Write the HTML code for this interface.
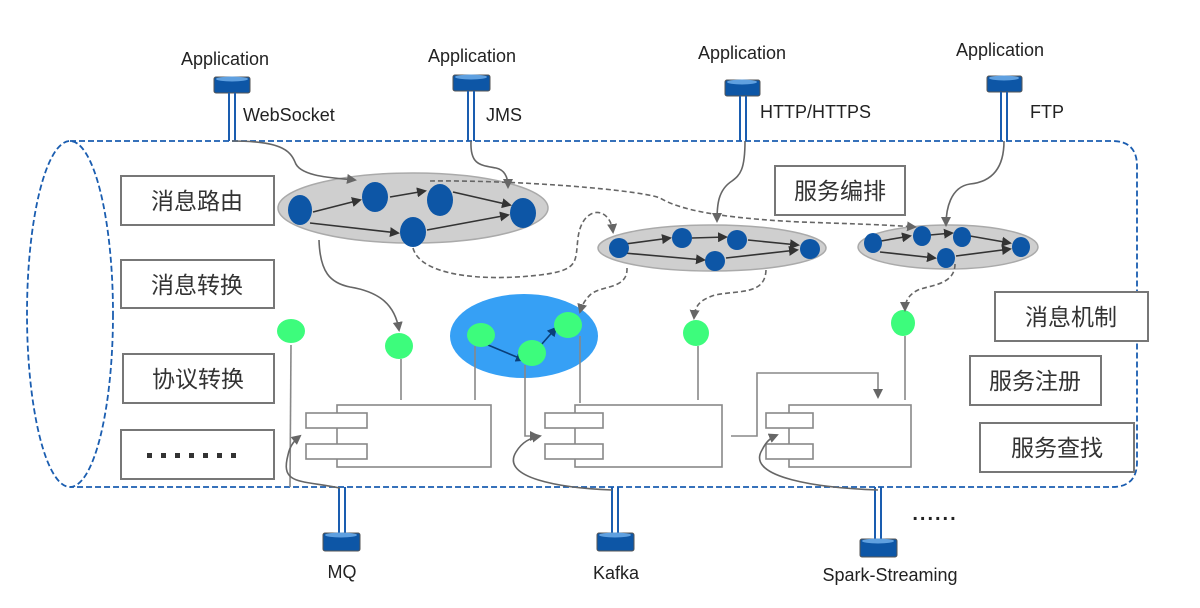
<!DOCTYPE html>
<html><head><meta charset="utf-8"><style>
html,body{margin:0;padding:0;background:#fff;}
svg{display:block}
text{font-family:"Liberation Sans","Noto Sans CJK SC",sans-serif;fill:#222}
.cn{font-size:23px;fill:#333}
.box{fill:#fff;stroke:#777;stroke-width:2}
.dn{fill:#0d56a6}
.gn{fill:#3dfc7c}
.ln{stroke:#888;stroke-width:1.6;fill:none}
.cv{stroke:#666;stroke-width:1.6;fill:none}
.ds{stroke:#666;stroke-width:1.6;fill:none;stroke-dasharray:5 3}
.ar{stroke:#333;stroke-width:1.6;fill:none}
</style></head><body>
<svg width="1200" height="608" viewBox="0 0 1200 608" xmlns="http://www.w3.org/2000/svg">
<defs>
<marker id="ag" markerWidth="10" markerHeight="10" refX="8" refY="5" orient="auto" markerUnits="userSpaceOnUse"><path d="M0,0 L10,5 L0,10 z" fill="#666"/></marker>
<marker id="ab" markerWidth="10" markerHeight="10" refX="8" refY="5" orient="auto" markerUnits="userSpaceOnUse"><path d="M0,0 L10,5 L0,10 z" fill="#333"/></marker>
<marker id="an" markerWidth="10" markerHeight="10" refX="8" refY="5" orient="auto" markerUnits="userSpaceOnUse"><path d="M0,0 L10,5 L0,10 z" fill="#0a3f7a"/></marker>
</defs>
<path d="M70,141 L1112,141 Q1137,141 1137,166 L1137,462 Q1137,487 1112,487 L70,487" fill="none" stroke="#1a5db0" stroke-width="1.8" stroke-dasharray="6 3"/>
<ellipse cx="70" cy="314" rx="43" ry="173" fill="none" stroke="#1a5db0" stroke-width="1.8" stroke-dasharray="6 3"/>

<rect class="box" x="121" y="176" width="153" height="49"/><text class="cn" x="197" y="209" text-anchor="middle">消息路由</text>
<rect class="box" x="121" y="260" width="153" height="48"/><text class="cn" x="197" y="293" text-anchor="middle">消息转换</text>
<rect class="box" x="123" y="354" width="151" height="49"/><text class="cn" x="198" y="387" text-anchor="middle">协议转换</text>
<rect class="box" x="121" y="430" width="153" height="49"/>
<g fill="#333"><rect x="147" y="453" width="5" height="5"/><rect x="161" y="453" width="5" height="5"/><rect x="175" y="453" width="5" height="5"/><rect x="189" y="453" width="5" height="5"/><rect x="203" y="453" width="5" height="5"/><rect x="217" y="453" width="5" height="5"/><rect x="231" y="453" width="5" height="5"/></g>
<rect class="box" x="775" y="166" width="130" height="49"/><text class="cn" x="840" y="199" text-anchor="middle">服务编排</text>
<rect class="box" x="995" y="292" width="153" height="49"/><text class="cn" x="1071" y="325" text-anchor="middle">消息机制</text>
<rect class="box" x="970" y="356" width="131" height="49"/><text class="cn" x="1035" y="389" text-anchor="middle">服务注册</text>
<rect class="box" x="980" y="423" width="154" height="49"/><text class="cn" x="1057" y="456" text-anchor="middle">服务查找</text>

<g>
<text x="225" y="65" font-size="18" text-anchor="middle">Application</text>
<rect x="214" y="77" width="36" height="16" rx="2" fill="#0d56a6" stroke="#555"/><ellipse cx="232" cy="79" rx="16" ry="2.5" fill="#5fa0e0"/>
<line x1="229" y1="93" x2="229" y2="141" stroke="#1a5db0" stroke-width="2"/><line x1="235" y1="93" x2="235" y2="141" stroke="#1a5db0" stroke-width="2"/>
<text x="243" y="121" font-size="18">WebSocket</text>

<text x="472" y="62" font-size="18" text-anchor="middle">Application</text>
<rect x="453" y="75" width="37" height="16" rx="2" fill="#0d56a6" stroke="#555"/><ellipse cx="471" cy="77" rx="16" ry="2.5" fill="#5fa0e0"/>
<line x1="468" y1="91" x2="468" y2="141" stroke="#1a5db0" stroke-width="2"/><line x1="474" y1="91" x2="474" y2="141" stroke="#1a5db0" stroke-width="2"/>
<text x="486" y="121" font-size="18">JMS</text>

<text x="742" y="59" font-size="18" text-anchor="middle">Application</text>
<rect x="725" y="80" width="35" height="16" rx="2" fill="#0d56a6" stroke="#555"/><ellipse cx="742" cy="82" rx="15" ry="2.5" fill="#5fa0e0"/>
<line x1="740" y1="96" x2="740" y2="141" stroke="#1a5db0" stroke-width="2"/><line x1="746" y1="96" x2="746" y2="141" stroke="#1a5db0" stroke-width="2"/>
<text x="760" y="118" font-size="18">HTTP/HTTPS</text>

<text x="1000" y="56" font-size="18" text-anchor="middle">Application</text>
<rect x="987" y="76" width="35" height="16" rx="2" fill="#0d56a6" stroke="#555"/><ellipse cx="1004" cy="78" rx="15" ry="2.5" fill="#5fa0e0"/>
<line x1="1001" y1="92" x2="1001" y2="141" stroke="#1a5db0" stroke-width="2"/><line x1="1007" y1="92" x2="1007" y2="141" stroke="#1a5db0" stroke-width="2"/>
<text x="1030" y="118" font-size="18">FTP</text>
</g>

<g>
<line x1="339" y1="487" x2="339" y2="533" stroke="#1a5db0" stroke-width="2"/><line x1="345" y1="487" x2="345" y2="533" stroke="#1a5db0" stroke-width="2"/>
<rect x="323" y="533" width="37" height="18" rx="2" fill="#0d56a6" stroke="#555"/><ellipse cx="341" cy="535" rx="16" ry="2.5" fill="#5fa0e0"/>
<text x="342" y="578" font-size="18" text-anchor="middle">MQ</text>
<line x1="612" y1="487" x2="612" y2="533" stroke="#1a5db0" stroke-width="2"/><line x1="618" y1="487" x2="618" y2="533" stroke="#1a5db0" stroke-width="2"/>
<rect x="597" y="533" width="37" height="18" rx="2" fill="#0d56a6" stroke="#555"/><ellipse cx="615" cy="535" rx="16" ry="2.5" fill="#5fa0e0"/>
<text x="616" y="579" font-size="18" text-anchor="middle">Kafka</text>
<line x1="875" y1="487" x2="875" y2="539" stroke="#1a5db0" stroke-width="2"/><line x1="881" y1="487" x2="881" y2="539" stroke="#1a5db0" stroke-width="2"/>
<rect x="860" y="539" width="37" height="18" rx="2" fill="#0d56a6" stroke="#555"/><ellipse cx="878" cy="541" rx="16" ry="2.5" fill="#5fa0e0"/>
<text x="890" y="581" font-size="18" text-anchor="middle">Spark-Streaming</text>
<text x="935" y="520" font-size="20" font-weight="bold" text-anchor="middle" style="letter-spacing:2px">......</text>
</g>

<ellipse cx="413" cy="208" rx="135" ry="35" fill="#cfcfcf" stroke="#aaa" stroke-width="1.5"/>
<g class="ar">
<line x1="313" y1="212" x2="360" y2="200" marker-end="url(#ab)"/>
<line x1="390" y1="197" x2="425" y2="191" marker-end="url(#ab)"/>
<line x1="453" y1="192" x2="510" y2="205" marker-end="url(#ab)"/>
<line x1="310" y1="223" x2="398" y2="233" marker-end="url(#ab)"/>
<line x1="427" y1="230" x2="508" y2="215" marker-end="url(#ab)"/>
</g>
<ellipse class="dn" cx="300" cy="210" rx="12" ry="15"/>
<ellipse class="dn" cx="375" cy="197" rx="13" ry="15"/>
<ellipse class="dn" cx="440" cy="200" rx="13" ry="16"/>
<ellipse class="dn" cx="523" cy="213" rx="13" ry="15"/>
<ellipse class="dn" cx="413" cy="232" rx="13" ry="15"/>

<ellipse cx="712" cy="248" rx="114" ry="23" fill="#cfcfcf" stroke="#aaa" stroke-width="1.5"/>
<g class="ar">
<line x1="625" y1="244" x2="670" y2="238" marker-end="url(#ab)"/>
<line x1="692" y1="238" x2="726" y2="237" marker-end="url(#ab)"/>
<line x1="748" y1="240" x2="798" y2="245" marker-end="url(#ab)"/>
<line x1="624" y1="253" x2="704" y2="260" marker-end="url(#ab)"/>
<line x1="726" y1="258" x2="797" y2="250" marker-end="url(#ab)"/>
</g>
<circle class="dn" cx="619" cy="248" r="10"/>
<circle class="dn" cx="682" cy="238" r="10"/>
<circle class="dn" cx="737" cy="240" r="10"/>
<circle class="dn" cx="810" cy="249" r="10"/>
<circle class="dn" cx="715" cy="261" r="10"/>

<ellipse cx="948" cy="247" rx="90" ry="22" fill="#cfcfcf" stroke="#aaa" stroke-width="1.5"/>
<g class="ar">
<line x1="881" y1="241" x2="910" y2="236" marker-end="url(#ab)"/>
<line x1="930" y1="235" x2="952" y2="233" marker-end="url(#ab)"/>
<line x1="970" y1="236" x2="1010" y2="243" marker-end="url(#ab)"/>
<line x1="880" y1="252" x2="935" y2="258" marker-end="url(#ab)"/>
<line x1="956" y1="256" x2="1010" y2="249" marker-end="url(#ab)"/>
</g>
<ellipse class="dn" cx="873" cy="243" rx="9" ry="10"/>
<ellipse class="dn" cx="922" cy="236" rx="9" ry="10"/>
<ellipse class="dn" cx="962" cy="237" rx="9" ry="10"/>
<ellipse class="dn" cx="1021" cy="247" rx="9" ry="10"/>
<ellipse class="dn" cx="946" cy="258" rx="9" ry="10"/>

<ellipse cx="524" cy="336" rx="74" ry="42" fill="#36a0f5"/>

<g fill="#fff" stroke="#888" stroke-width="1.6">
<rect x="337" y="405" width="154" height="62"/>
<rect x="306" y="413" width="61" height="15"/><rect x="306" y="444" width="61" height="15"/>
<rect x="575" y="405" width="147" height="62"/>
<rect x="545" y="413" width="58" height="15"/><rect x="545" y="444" width="58" height="15"/>
<rect x="789" y="405" width="122" height="62"/>
<rect x="766" y="413" width="47" height="15"/><rect x="766" y="444" width="47" height="15"/>
</g>

<g class="ln">
<line x1="291" y1="345" x2="290" y2="487"/>
<line x1="401" y1="359" x2="401" y2="400"/>
<line x1="475" y1="346" x2="475" y2="400"/>
<line x1="580" y1="336" x2="580" y2="403"/>
<polyline points="525,365 525,436 538,436" marker-end="url(#ag)"/>
<line x1="698" y1="346" x2="698" y2="400"/>
<line x1="905" y1="336" x2="905" y2="400"/>
<polyline points="731,436 757,436 757,373 878,373 878,397" marker-end="url(#ag)"/>
</g>

<g class="ar" style="stroke:#0a3f7a">
<line x1="488" y1="345" x2="524" y2="360" marker-end="url(#an)"/>
<line x1="541" y1="345" x2="556" y2="328" marker-end="url(#an)"/>
</g>
<ellipse class="gn" cx="291" cy="331" rx="14" ry="12"/>
<ellipse class="gn" cx="399" cy="346" rx="14" ry="13"/>
<ellipse class="gn" cx="481" cy="335" rx="14" ry="12"/>
<ellipse class="gn" cx="532" cy="353" rx="14" ry="13"/>
<ellipse class="gn" cx="568" cy="325" rx="14" ry="13"/>
<ellipse class="gn" cx="696" cy="333" rx="13" ry="13"/>
<ellipse class="gn" cx="903" cy="323" rx="12" ry="13"/>

<g class="cv">
<path d="M232,141 C280,141 290,150 295,162 C300,178 340,178 355,180" marker-end="url(#ag)"/>
<path d="M471,141 C470,165 480,165 496,168 C505,170 508,178 508,187" marker-end="url(#ag)"/>
<path d="M745,141 C745,170 740,175 732,181 C718,190 717,205 717,221" marker-end="url(#ag)"/>
<path d="M1004,141 C1004,170 990,182 970,184 C950,187 946,210 946,225" marker-end="url(#ag)"/>
<path d="M319,240 C320,272 330,283 350,287 C380,292 395,305 399,330" marker-end="url(#ag)"/>
<path d="M340,488 C300,480 280,485 288,455 C290,445 295,440 300,436" marker-end="url(#ag)"/>
<path d="M612,490 C560,488 500,478 516,452 C522,442 530,438 540,436" marker-end="url(#ag)"/>
<path d="M878,490 C820,488 745,478 762,450 C766,442 770,438 777,435" marker-end="url(#ag)"/>
</g>
<g class="ds">
<path d="M430,181 C520,180 640,190 660,198 C680,210 720,218 800,222 C860,224 890,225 915,227" marker-end="url(#ag)"/>
<path d="M413,248 C420,275 480,282 540,275 C580,270 575,262 578,238 C582,205 610,205 613,232" marker-end="url(#ag)"/>
<path d="M627,268 C628,290 600,285 590,295 C585,300 582,305 580,312" marker-end="url(#ag)"/>
<path d="M766,270 C765,295 740,290 715,295 C700,300 695,305 694,318" marker-end="url(#ag)"/>
<path d="M955,264 C955,285 930,285 918,290 C908,295 905,302 905,310" marker-end="url(#ag)"/>
</g>
</svg>
</body></html>
